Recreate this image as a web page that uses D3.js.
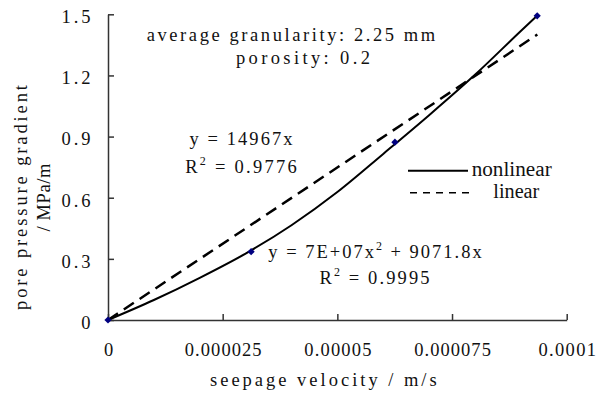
<!DOCTYPE html>
<html>
<head>
<meta charset="utf-8">
<script src="https://cdn.jsdelivr.net/npm/d3@7/dist/d3.min.js"></script>
<style>
  html, body { margin: 0; padding: 0; background: #fff; }
  svg { display: block; }
</style>
</head>
<body>
<script>
// ---- data ----
const pointX = [0, 0.0000312, 0.00006255, 0.00009357];
const pointY = [0, 0.335, 0.8725, 1.4926];

// traced nonlinear (2nd-order) trend curve
const curveX = [0, 0.00001, 0.00002, 0.00003, 0.00004, 0.00005, 0.00006, 0.00007, 0.00008, 0.00009, 0.0000936];
const curveY = [0, 0.098, 0.207, 0.326, 0.465, 0.628, 0.815, 1.005, 1.203, 1.418, 1.494];

// linear trend y = 14967x
const linearX = [0, 0.0000936];
const linearY = [0, 1.401];

const xTicks = [0, 0.000025, 0.00005, 0.000075, 0.0001];
const xTickLabels = ["0", "0.000025", "0.00005", "0.000075", "0.0001"];
const yTicks = [0, 0.3, 0.6, 0.9, 1.2, 1.5];
const yTickLabels = ["0", "0.3", "0.6", "0.9", "1.2", "1.5"];

const xTitle = "seepage velocity / m/s";
const yTitleLines = ["pore pressure gradient", "/ MPa/m"];
const infoLines = ["average granularity: 2.25 mm", "porosity: 0.2"];
const legendLabels = ["nonlinear", "linear"];

// ---- layout ----
const W = 596, H = 393;
const MONO = "'Liberation Serif', 'Times New Roman', serif";
const SERIF = "'Liberation Serif', 'Times New Roman', serif";
const CW = 10.3; // char advance of the (monospaced) text in the reference
const FS = 18.5;

const svg = d3.select("body").append("svg").attr("width", W).attr("height", H);

const x = d3.scaleLinear().domain([0, 0.0001]).range([108, 566.7]);
const y = d3.scaleLinear().domain([0, 1.5]).range([320, 14.3]);

function mono(sel, size) {
  return sel.attr("font-family", MONO).attr("font-size", size || FS).attr("fill", "#111");
}
function fit(sel, len) {
  return sel.attr("textLength", len).attr("lengthAdjust", "spacing");
}

// axes
const xAxis = d3.axisBottom(x).tickValues(xTicks)
  .tickFormat((d, i) => xTickLabels[i]).tickSizeInner(-6).tickSizeOuter(0);
const yAxis = d3.axisLeft(y).tickValues(yTicks)
  .tickFormat((d, i) => yTickLabels[i]).tickSizeInner(-6).tickSizeOuter(0);

const gx = svg.append("g").attr("transform", `translate(0,${y(0)})`).call(xAxis);
const gy = svg.append("g").attr("transform", `translate(${x(0)},0)`).call(yAxis);

[gx, gy].forEach(g => {
  g.select(".domain").attr("stroke", "#333").attr("stroke-width", 1.5);
  g.selectAll(".tick line").attr("stroke", "#333").attr("stroke-width", 1.5);
});
gx.selectAll(".tick text").each(function(d, i) {
  const t = d3.select(this);
  mono(t).attr("y", 36).attr("dy", 0).attr("text-anchor", "middle");
  if (xTickLabels[i].length > 1) fit(t, xTickLabels[i].length * 9.6);
});
gy.selectAll(".tick text").each(function(d, i) {
  const t = d3.select(this);
  mono(t).attr("x", -17.5).attr("dy", "0.45em").attr("text-anchor", "end");
  if (yTickLabels[i].length > 1) fit(t, 29);
});

// linear trend (dashed)
const linePts = linearX.map((d, i) => [d, linearY[i]]);
svg.append("path")
  .attr("d", d3.line().x(d => x(d[0])).y(d => y(d[1]))(linePts))
  .attr("fill", "none").attr("stroke", "#000").attr("stroke-width", 2.5)
  .attr("stroke-dasharray", "12,7");

// nonlinear trend (solid)
const curvePts = curveX.map((d, i) => [d, curveY[i]]);
svg.append("path")
  .attr("d", d3.line().x(d => x(d[0])).y(d => y(d[1])).curve(d3.curveMonotoneX)(curvePts))
  .attr("fill", "none").attr("stroke", "#000").attr("stroke-width", 2);

// markers
svg.selectAll(".pt").data(pointX.map((d, i) => [d, pointY[i]])).enter()
  .append("path").attr("class", "pt")
  .attr("d", d3.symbol().type(d3.symbolSquare).size(26))
  .attr("transform", d => `translate(${x(d[0])},${y(d[1])}) rotate(45)`)
  .attr("fill", "#000080");

// info text
const info = [[146.7, 40.7], [236, 63.5]];
infoLines.forEach((s, i) => {
  fit(mono(svg.append("text")).attr("x", info[i][0]).attr("y", info[i][1]), s.length * CW).text(s);
});

// equations
function eqR2(cx, by, value, width) {
  const t = fit(mono(svg.append("text")).attr("x", cx).attr("y", by).attr("text-anchor", "middle"), width);
  t.append("tspan").text("R");
  t.append("tspan").attr("font-size", 12).attr("dy", -8).text("2");
  t.append("tspan").attr("dy", 8).text(" = " + value);
}
fit(mono(svg.append("text")).attr("x", 241).attr("y", 145).attr("text-anchor", "middle"), 103)
  .text("y = 14967x");
eqR2(241, 173.3, "0.9776", 111.7);

{
  const t = fit(mono(svg.append("text")).attr("x", 375).attr("y", 257.7).attr("text-anchor", "middle"), 213.4);
  t.append("tspan").text("y = 7E+07x");
  t.append("tspan").attr("font-size", 12).attr("dy", -8).text("2");
  t.append("tspan").attr("dy", 8).text(" + 9071.8x");
}
eqR2(374.5, 284.3, "0.9995", 110);

// axis titles
fit(mono(svg.append("text")).attr("x", 210).attr("y", 386), 226.7).text(xTitle);

const yTitleX = [26.5, 49.5];
const yTitleLen = [225, 68];
yTitleLines.forEach((s, i) => {
  fit(mono(svg.append("text"))
    .attr("transform", `translate(${yTitleX[i]},197.5) rotate(-90)`)
    .attr("text-anchor", "middle"), yTitleLen[i]).text(s);
});

// legend
const leg = svg.append("g");
leg.append("line").attr("x1", 408).attr("x2", 468).attr("y1", 170.7).attr("y2", 170.7)
  .attr("stroke", "#000").attr("stroke-width", 2);
leg.append("line").attr("x1", 410).attr("x2", 472).attr("y1", 192.7).attr("y2", 192.7)
  .attr("stroke", "#000").attr("stroke-width", 1.5).attr("stroke-dasharray", "7,6");
leg.append("text").attr("x", 471.7).attr("y", 175.5).attr("font-family", SERIF).attr("font-size", 20)
  .attr("fill", "#111").attr("textLength", 80).attr("lengthAdjust", "spacingAndGlyphs").text(legendLabels[0]);
leg.append("text").attr("x", 493.3).attr("y", 198).attr("font-family", SERIF).attr("font-size", 20)
  .attr("fill", "#111").attr("textLength", 46).attr("lengthAdjust", "spacingAndGlyphs").text(legendLabels[1]);
</script>
</body>
</html>
